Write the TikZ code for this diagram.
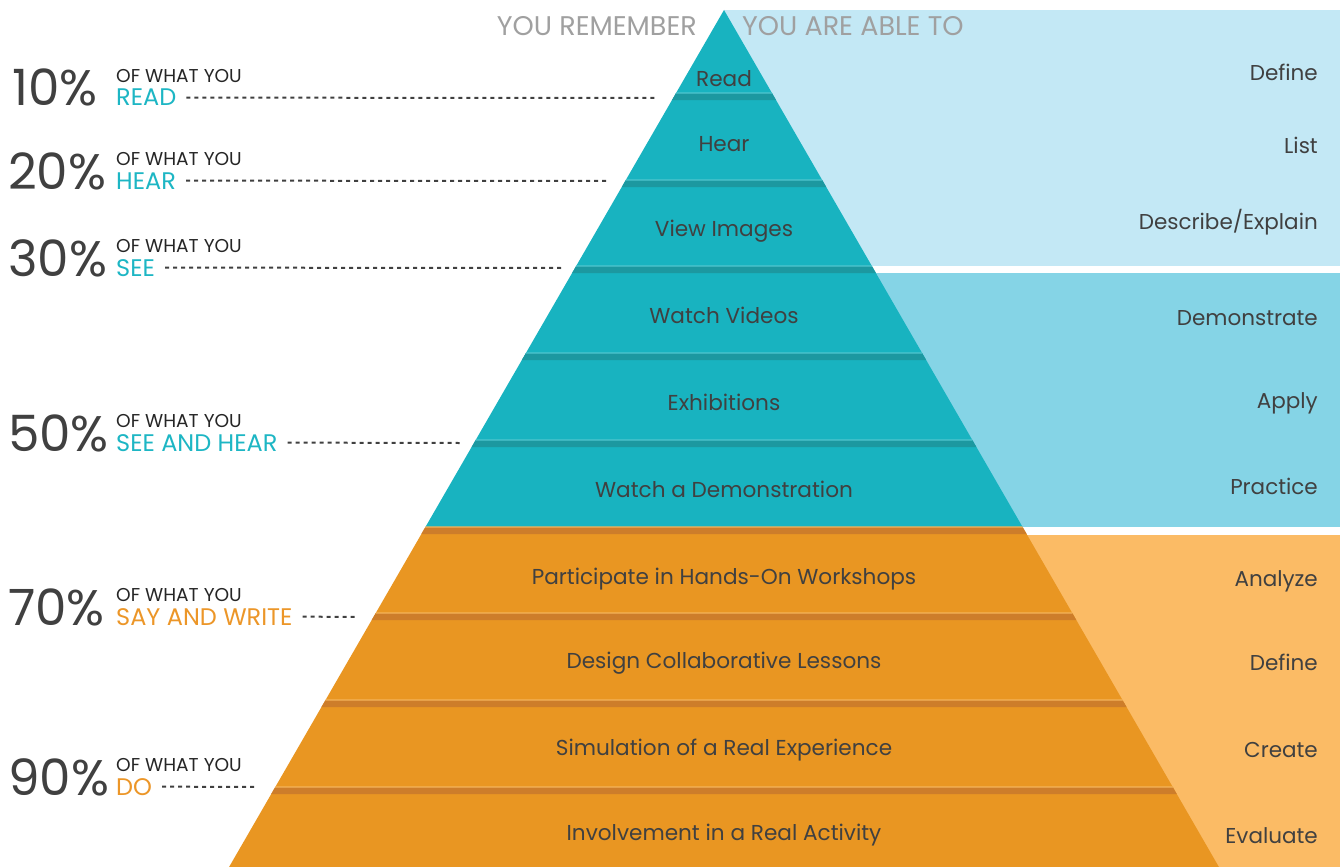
\documentclass[tikz,border=0pt]{standalone}
\usepackage{fontspec}
\setmainfont{Poppins}
\usetikzlibrary{positioning}

\definecolor{tealband}{RGB}{24,179,192}
\definecolor{tealdark}{RGB}{28,152,160}
\definecolor{teallight}{RGB}{80,198,207}
\definecolor{orangeband}{RGB}{233,150,34}
\definecolor{orangedark}{RGB}{205,125,42}
\definecolor{orangelight}{RGB}{244,180,90}
\definecolor{skypanel}{RGB}{195,232,245}
\definecolor{bluepanel}{RGB}{133,212,230}
\definecolor{peachpanel}{RGB}{251,187,101}
\definecolor{inkgray}{RGB}{64,64,64}
\definecolor{headgray}{RGB}{160,160,160}
\definecolor{tealtext}{RGB}{29,182,196}
\definecolor{orangetext}{RGB}{236,150,40}

% one slice of the pyramid, apex at (724,10)
\newcommand\pyrband[3]{%
  \fill[#3] ({724-0.5775*(#1-10)},#1) -- ({724+0.5775*(#1-10)},#1)
    -- ({724+0.5775*(#2-10)},#2) -- ({724-0.5775*(#2-10)},#2) -- cycle;}

\begin{document}
\begin{tikzpicture}
  [x=1pt, y=-1pt, node distance=5pt,
  tier/.style={anchor=base, font=\fontsize{21.6}{24}\selectfont, text=inkgray, inner sep=0pt},
  ability/.style={anchor=base east, font=\fontsize{21.5}{24}\selectfont, text=inkgray, inner sep=0pt},
  percent/.style={anchor=base west, font=\fontsize{50}{54}\selectfont, text=inkgray, inner sep=0pt},
  sense/.style={anchor=base west, font=\fontsize{24}{26}\selectfont, inner sep=0pt},
  ofwhat/.style={font=\fontsize{18.6}{20}\selectfont, text=black!85, inner sep=0pt},
  leader/.style={draw=inkgray, line width=2pt, dash pattern=on 4pt off 4pt},
  heading/.style={font=\fontsize{27}{30}\selectfont, text=headgray, inner sep=0pt}]

  \useasboundingbox[fill=white] (0,0) rectangle (1344,867);

  \fill[skypanel] (724,10) rectangle (1340,266);
  \fill[bluepanel] (724,273) rectangle (1340,527);
  \fill[peachpanel] (724,535) rectangle (1340,867);

  \foreach \ya/\yb/\col in {10/93/tealband, 93/180/tealband, 180/266/tealband,
      266/353/tealband, 353/440/tealband, 440/527/tealband,
      527/613/orangeband, 613/700/orangeband, 700/787/orangeband, 787/867/orangeband}
    \pyrband{\ya}{\yb}{\col};
  \foreach \ys/\col/\edge in {93/tealdark/teallight, 180/tealdark/teallight,
      266/tealdark/teallight, 353/tealdark/teallight, 440/tealdark/teallight,
      527/orangedark/orangelight, 613/orangedark/orangelight,
      700/orangedark/orangelight, 787/orangedark/orangelight} {
    \pyrband{\ys}{\ys+7}{\col};
    \pyrband{\ys-0.6}{\ys+0.6}{\edge};
  }

  \node[heading, anchor=east] (remember) at (697,26) {YOU REMEMBER};
  \node[heading, anchor=west] (ableto) at (742,26) {YOU ARE ABLE TO};

  \foreach \nm/\yb/\txt in {read/86/Read, hear/151/Hear, view/236/View Images,
      videos/323/Watch Videos, exhib/410/Exhibitions, demo/497/Watch a Demonstration,
      workshop/584/Participate in Hands-On Workshops, lessons/668/Design Collaborative Lessons,
      simul/755/Simulation of a Real Experience, activity/840/Involvement in a Real Activity}
    \node[tier] (\nm) at (724,\yb) {\txt};

  \foreach \nm/\yb/\txt in {define/81/Define, list/153/List, explain/229/{Describe/Explain},
      demonstrate/325/Demonstrate, apply/408/Apply, practice/494/Practice,
      analyze/586/Analyze, defineb/670/Define, create/757/Create, evaluate/843/Evaluate}
    \node[ability] (\nm) at (1318,\yb) {\txt};

  \foreach \nm/\x/\yb/\pc/\col/\txt/\xe in {p10/12/106/10/tealtext/READ/655,
      p20/8/189/20/tealtext/HEAR/610, p30/8/276/30/tealtext/SEE/563,
      p50/8/451/50/tealtext/SEE AND HEAR/460, p70/8/625/70/orangetext/SAY AND WRITE/358,
      p90/8/795/90/orangetext/DO/258} {
    \node[percent] (\nm) at (\x,\yb) {\pc\%};
    \node[sense, text=\col] (\nm w) at (116,\yb) {\txt};
    \node[ofwhat, above=6pt of \nm w.north west, anchor=south west] (\nm o) {OF WHAT YOU};
    \coordinate (\nm e) at (\xe,\yb-8);
    \draw[leader] ([xshift=10pt]\nm w.east) -- (\nm e);
  }

\end{tikzpicture}
\end{document}
